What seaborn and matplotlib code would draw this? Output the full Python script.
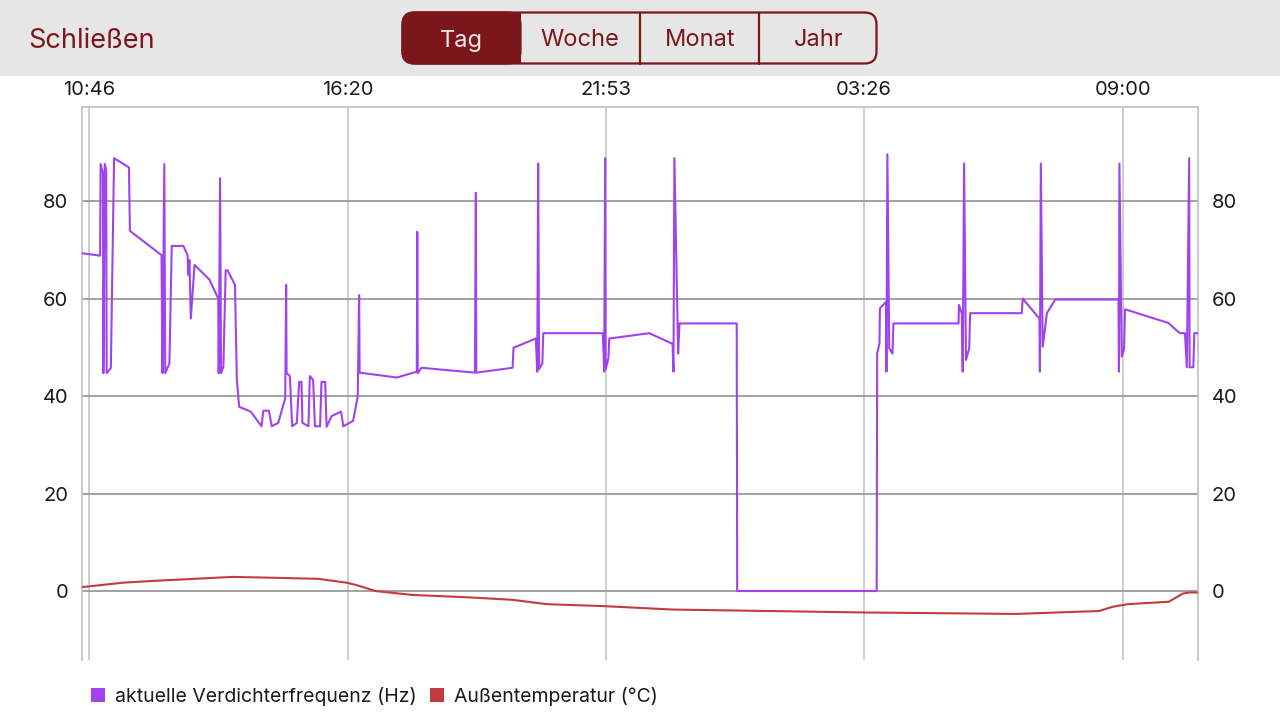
import matplotlib
matplotlib.use("Agg")
import matplotlib.pyplot as plt
import seaborn as sns
import pandas as pd
from matplotlib.patches import Rectangle, FancyBboxPatch, Patch
from matplotlib.lines import Line2D

# ---------------- data (hours since 10:37 start of window) ----------------
freq_hours = [0.0, 0.39, 0.40, 0.45, 0.46, 0.49, 0.52, 0.53, 0.62, 0.69,
              1.01, 1.03, 1.71, 1.73, 1.77, 1.79, 1.88, 1.93, 2.18, 2.27,
              2.29, 2.31, 2.34, 2.42, 2.74, 2.93, 2.94, 2.97, 2.99, 3.04,
              3.09, 3.13, 3.29, 3.33, 3.38, 3.63, 3.86, 3.90, 4.02, 4.08,
              4.22, 4.37, 4.39, 4.40, 4.47, 4.52, 4.62, 4.67, 4.72, 4.74,
              4.87, 4.90, 4.97, 5.01, 5.12, 5.15, 5.23, 5.26, 5.37, 5.57,
              5.62, 5.83, 5.93, 5.96, 5.97, 6.77, 7.20, 7.21, 7.22, 7.30,
              8.45, 8.47, 8.48, 9.26, 9.28, 9.76, 9.79, 9.81, 9.83, 9.90,
              9.92, 11.20, 11.23, 11.25, 11.26, 11.32, 11.34, 12.20, 12.70, 12.72,
              12.74, 12.82, 12.85, 14.08, 14.09, 17.09, 17.10, 17.15, 17.16, 17.23,
              17.29, 17.30, 17.32, 17.36, 17.43, 17.45, 18.85, 18.86, 18.92, 18.94,
              18.97, 19.01, 19.08, 19.10, 20.21, 20.23, 20.59, 20.60, 20.62, 20.66,
              20.75, 20.93, 22.29, 22.30, 22.31, 22.36, 22.41, 22.43, 23.36, 23.61,
              23.72, 23.76, 23.81, 23.82, 23.90, 23.92, 24.0]
freq_hz = [69.3, 68.8, 87.6, 85.7, 44.7, 87.6, 86.4, 44.7, 45.7, 88.8,
           86.9, 73.9, 68.9, 44.7, 87.6, 44.7, 46.7, 70.8, 70.8, 68.9,
           64.8, 67.9, 55.9, 66.9, 63.9, 60.0, 44.7, 84.7, 44.7, 46.0,
           65.8, 65.8, 62.8, 43.3, 37.8, 36.8, 33.8, 37.0, 37.0, 33.8,
           34.5, 39.5, 62.8, 44.7, 44.1, 33.8, 34.5, 42.9, 42.9, 34.5,
           33.8, 44.1, 43.3, 33.8, 33.8, 42.9, 42.9, 33.7, 35.9, 36.8,
           33.8, 34.9, 39.9, 60.7, 44.8, 43.8, 45.0, 73.7, 44.7, 45.8,
           44.8, 81.7, 44.8, 45.8, 49.9, 51.8, 45.0, 87.7, 45.5, 46.7,
           52.9, 52.9, 45.0, 88.8, 45.5, 47.7, 51.8, 52.9, 50.7, 45.0,
           88.8, 48.7, 54.9, 54.9, 0.0, 0.0, 48.7, 50.8, 58.0, 58.7,
           59.3, 45.0, 89.6, 49.8, 48.7, 54.9, 54.9, 58.7, 57.0, 45.0,
           87.7, 47.4, 49.8, 57.0, 57.0, 60.0, 55.9, 45.0, 87.7, 50.1,
           57.0, 59.8, 59.8, 45.0, 87.7, 48.1, 49.6, 57.8, 55.0, 52.9,
           52.9, 45.9, 88.8, 45.9, 45.9, 52.9, 52.9]

temp_hours = [0.0, 0.87, 1.57, 2.62, 3.24, 4.21, 5.08, 5.70, 5.91, 6.31,
              7.10, 8.32, 9.25, 10.00, 11.23, 12.70, 16.83, 20.08, 21.87, 22.18,
              22.49, 23.37, 23.68, 23.81, 24.0]
temp_c = [0.8, 1.7, 2.1, 2.6, 2.9, 2.7, 2.5, 1.7, 1.2, 0.0,
          -0.8, -1.3, -1.8, -2.7, -3.1, -3.8, -4.4, -4.7, -4.1, -3.2,
          -2.7, -2.2, -0.5, -0.3, -0.3]

start_time = "10:37"
time_labels = ["10:46", "16:20", "21:53", "03:26", "09:00"]
y_ticks = [0, 20, 40, 60, 80]
series_names = ["aktuelle Verdichterfrequenz (Hz)", "Außentemperatur (°C)"]
header_title = "Schließen"
segments = ["Tag", "Woche", "Monat", "Jahr"]

# ---------------- style ----------------
sns.set_theme(style="white")
plt.rcParams['font.family'] = ['Inter', 'DejaVu Sans']

PURPLE = "#a043ec"
RED = "#c43a3f"
DARKRED = "#7b161a"
HEADER_BG = "#e6e6e6"

W, H = 1280, 719
fig = plt.figure(figsize=(12.8, 7.19), dpi=100)
fig.patch.set_facecolor("white")

def fx(px):
    return px / W

def fy(py):
    return 1 - py / H

# ---------------- header overlay ----------------
hax = fig.add_axes([0, 0, 1, 1], zorder=0)
hax.set_xlim(0, W)
hax.set_ylim(H, 0)
hax.axis("off")
hax.add_patch(Rectangle((0, 0), W, 76, fc=HEADER_BG, ec="none"))
hax.text(28, 41.5, header_title, ha="left", va="center", fontsize=19.5, color=DARKRED)

seg_left, seg_top, seg_w, seg_h = 402.5, 12.5, 474, 51
hax.add_patch(FancyBboxPatch((seg_left, seg_top), seg_w, seg_h,
                             boxstyle="round,pad=0,rounding_size=12",
                             fc=HEADER_BG, ec=DARKRED, lw=1.6, zorder=2))
hax.add_patch(FancyBboxPatch((seg_left, seg_top), 118, seg_h,
                             boxstyle="round,pad=0,rounding_size=12",
                             fc=DARKRED, ec=DARKRED, lw=1.6, zorder=3))
hax.add_patch(Rectangle((480, seg_top - 0.8), 41, seg_h + 1.6, fc=DARKRED, ec="none", zorder=3))
for xd in [640, 759]:
    hax.add_line(Line2D([xd, xd], [seg_top, seg_top + seg_h], color=DARKRED, lw=1.6, zorder=4))
seg_centers = [461, 580, 700, 819]
for name, cx in zip(segments, seg_centers):
    hax.text(cx, 40.5, name, ha="center", va="center", fontsize=17,
             color="#f5e9e9" if name == "Tag" else DARKRED, zorder=5)

# ---------------- main chart ----------------
ax = fig.add_axes([fx(82), fy(660), fx(1198) - fx(82), fy(107) - fy(660)], zorder=1)

df_freq = pd.DataFrame({"h": freq_hours, "v": freq_hz})
df_temp = pd.DataFrame({"h": temp_hours, "v": temp_c})
sns.lineplot(data=df_freq, x="h", y="v", color=PURPLE, lw=1.5, estimator=None,
             sort=False, ax=ax, legend=False, zorder=4)
sns.lineplot(data=df_temp, x="h", y="v", color=RED, lw=1.5, estimator=None,
             sort=False, ax=ax, legend=False, zorder=3)

def hours_since_start(lbl):
    h0, m0 = map(int, start_time.split(":"))
    h1, m1 = map(int, lbl.split(":"))
    return (((h1 * 60 + m1) - (h0 * 60 + m0)) % 1440) / 60.0

ax.set_xlim(0, 24)
ax.set_ylim(-14.15, 99.3)
ax.set_xlabel("")
ax.set_ylabel("")

ax.xaxis.tick_top()
ax.set_xticks([hours_since_start(t) for t in time_labels])
ax.set_xticklabels(time_labels)
ax.tick_params(axis="x", which="both", top=False, bottom=False, length=0, pad=6,
               labelsize=14.5, labelcolor="#1a1a1a")

ax.set_yticks(y_ticks)
ax.set_yticklabels([str(t) for t in y_ticks])
ax.tick_params(axis="y", which="both", left=False, right=False, labelleft=True,
               labelright=True, length=0, pad=10, labelsize=14.5, labelcolor="#1a1a1a")

ax.grid(False)
ax.grid(axis="y", color="#9b9b9b", lw=1.3)
ax.grid(axis="x", color="#c9c9c9", lw=1.3)
ax.set_axisbelow(True)

for side in ["left", "top", "right"]:
    ax.spines[side].set_visible(True)
    ax.spines[side].set_color("#c4c4c4")
    ax.spines[side].set_linewidth(1.3)
ax.spines["bottom"].set_visible(False)

# ---------------- legend ----------------
handles = [Patch(fc=PURPLE, ec="none"), Patch(fc=RED, ec="none")]
fig.legend(handles, series_names, loc="center left",
           bbox_to_anchor=(fx(91), fy(696)), ncol=2, frameon=False, fontsize=14,
           handlelength=0.72, handleheight=0.72, handletextpad=0.5,
           columnspacing=0.7, borderpad=0, borderaxespad=0, labelcolor="#1a1a1a")

fig.savefig("out.png", dpi=100)
